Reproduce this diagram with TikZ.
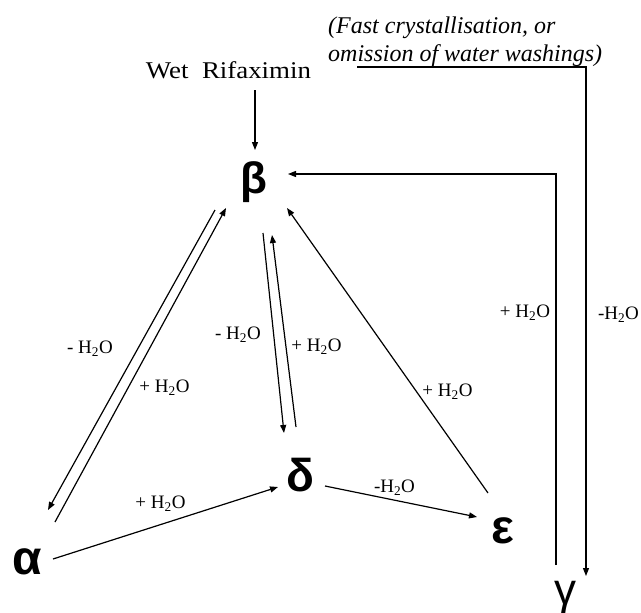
\documentclass[tikz,border=0pt]{standalone}
\usepackage{fontspec}
\setmainfont{Liberation Serif}
\newfontfamily\gk{Liberation Sans}
\usetikzlibrary{arrows.meta}
\begin{document}
\begin{tikzpicture}[x=1pt,y=-1pt,
  greek/.style={inner sep=0pt, font=\gk\bfseries\fontsize{44}{44}\selectfont},
  lbl/.style={inner sep=0pt, font=\fontsize{19}{19}\selectfont},
  arr/.style={line width=1.2pt, -{Triangle[length=8pt,width=6pt]}}]
\useasboundingbox (0,0) rectangle (641,613);
% species
\node[greek] (b) at (253.5,182) {β};
\node[greek,font=\gk\bfseries\fontsize{48}{48}\selectfont] (a) at (27.5,561.5) {α};
\node[greek,font=\gk\bfseries\fontsize{46}{46}\selectfont] (d) at (300,475) {δ};
\node[greek,font=\gk\bfseries\fontsize{48}{48}\selectfont] (e) at (502.5,531) {ε};
\node[greek,font=\gk\fontsize{44}{44}\selectfont] (g) at (565.5,597) {γ};
% texts
\node[inner sep=0pt, anchor=base, font=\fontsize{24}{24}\selectfont] (wet) at (228.5,78) {\scalebox{1.12}[1]{Wet\ \ Rifaximin}};
\node[inner sep=0pt, anchor=north west, align=left, font=\itshape\fontsize{24}{28}\selectfont] (note) at (328,16.5) {(Fast crystallisation, or\\omission of water washings)};
% connectors
\draw[arr] ([shift={(26.5,12)}]wet.base) -- ([shift={(1.5,-32)}]b.center);
\draw[arr] ([shift={(-38.5,28)}]b.center) -- ([shift={(20.5,-51.5)}]a.center);
\draw[arr] ([shift={(27.5,-39.5)}]a.center) -- ([shift={(-27.5,26)}]b.center);
\draw[arr] ([shift={(9.5,51)}]b.center) -- ([shift={(-16,-42)}]d.center);
\draw[arr] ([shift={(-4,-48)}]d.center) -- ([shift={(18.5,53)}]b.center);
\draw[arr] ([shift={(-14.5,-38)}]e.center) -- ([shift={(33.5,26)}]b.center);
\draw[arr] ([shift={(25.5,-2.5)}]a.center) -- ([shift={(-22,12)}]d.center);
\draw[arr] ([shift={(25,11)}]d.center) -- ([shift={(-25.5,-14)}]e.center);
\draw[arr] ([shift={(-9.5,-32)}]g.center) |- ([shift={(34.5,-8)}]b.center);
\draw[arr] ([shift={(29,50.5)}]note.north west) -| ([shift={(20.5,-21)}]g.center);
% labels
\node[lbl] (l1) at (90,349) {- H\textsubscript{2}O};
\node[lbl] (l2) at (164.5,388) {+ H\textsubscript{2}O};
\node[lbl] (l3) at (238,335) {- H\textsubscript{2}O};
\node[lbl] (l4) at (316.5,347) {+ H\textsubscript{2}O};
\node[lbl] (l5) at (447.5,392) {+ H\textsubscript{2}O};
\node[lbl] (l6) at (394.5,488) {-H\textsubscript{2}O};
\node[lbl] (l7) at (160.5,504) {+ H\textsubscript{2}O};
\node[lbl] (l8) at (525,313) {+ H\textsubscript{2}O};
\node[lbl] (l9) at (618.5,315) {-H\textsubscript{2}O};
\end{tikzpicture}
\end{document}
